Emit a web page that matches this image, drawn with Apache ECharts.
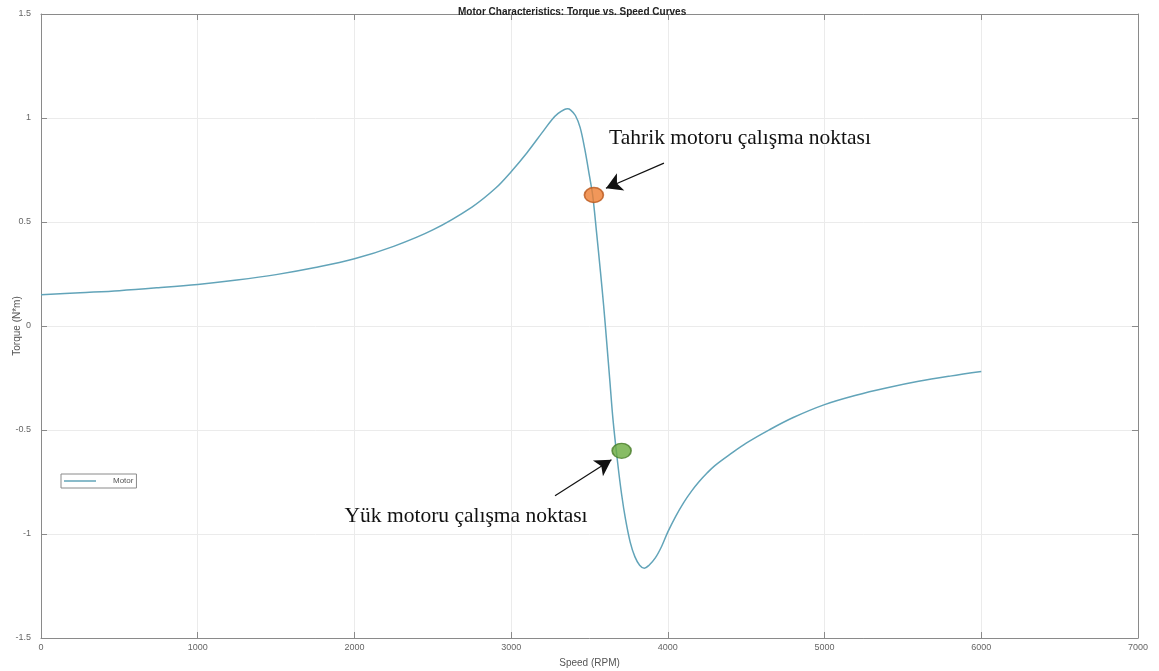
<!DOCTYPE html>
<html>
<head>
<meta charset="utf-8">
<script src="https://cdn.jsdelivr.net/npm/echarts@6/dist/echarts.min.js"></script>
<style>html,body{margin:0;padding:0;background:#fff;}#c{width:1159px;height:671px;}</style>
</head>
<body>
<div id="c"></div>
<script>
const speed = [0,250,500,750,1000,1250,1500,1750,2000,2250,2500,2750,2900,3000,3100,3200,3260,3300,3340,3360,3380,3410,3440,3470,3500,3520,3545,3570,3590,3610,3630,3650,3680,3705,3730,3760,3790,3820,3850,3880,3920,3960,4000,4050,4100,4150,4200,4250,4300,4400,4500,4650,4800,5000,5200,5400,5600,5800,6000];
const torque = [0.150,0.160,0.170,0.184,0.200,0.221,0.247,0.281,0.323,0.383,0.462,0.572,0.662,0.742,0.832,0.932,0.992,1.022,1.041,1.044,1.038,1.012,0.955,0.850,0.720,0.630,0.450,0.260,0.100,-0.080,-0.265,-0.450,-0.660,-0.810,-0.930,-1.040,-1.110,-1.150,-1.165,-1.150,-1.115,-1.060,-0.990,-0.915,-0.850,-0.795,-0.748,-0.707,-0.671,-0.615,-0.563,-0.498,-0.440,-0.378,-0.333,-0.297,-0.266,-0.241,-0.219];
const xTicks = [0,1000,2000,3000,4000,5000,6000,7000];
const yTicks = [-1.5,-1,-0.5,0,0.5,1,1.5];
const drivePoint = [3528, 0.630];
const loadPoint = [3705, -0.600];
const driveLabel = 'Tahrik motoru çalışma noktası';
const loadLabel = 'Yük motoru çalışma noktası';
const driveArrow = [[3975, 0.783], [3605, 0.662]];
const loadArrow = [[3280, -0.816], [3640, -0.643]];
const driveLabelPos = [3625, 0.903];
const loadLabelPos = [1937, -0.913];

const chart = echarts.init(document.getElementById('c'), null, {renderer: 'canvas'});
const data = speed.map((s, i) => [s, torque[i]]);
const axisCommon = {
  type: 'value',
  axisLine: {show: true, onZero: false, lineStyle: {color: '#8a8a8a', width: 1}},
  axisTick: {show: true, inside: true, length: 6, lineStyle: {color: '#8a8a8a'}},
};
chart.setOption({
  animation: false,
  backgroundColor: '#fff',
  title: {
    text: 'Motor Characteristics: Torque vs. Speed Curves',
    left: 453, top: 2,
    textStyle: {fontFamily: 'Liberation Sans, Arial', fontSize: 10, fontWeight: 'bold', color: '#222'}
  },
  legend: {
    data: [{name: 'Motor', icon: 'rect'}], left: 61, top: 474, orient: 'vertical',
    borderColor: '#8a8a8a', borderWidth: 1, padding: [3, 3, 3, 3],
    itemWidth: 32, itemHeight: 1.5, itemGap: 4,
    textStyle: {fontFamily: 'Liberation Sans, Arial', fontSize: 8, color: '#555', padding: [3, 0, 3, 12]},
    backgroundColor: '#fff'
  },
  grid: {left: 41, right: 21, top: 14, bottom: 33, containLabel: false, outerBoundsMode: 'none'},
  xAxis: [
    Object.assign({}, axisCommon, {
      min: 0, max: 7000, interval: 1000, position: 'bottom',
      name: 'Speed (RPM)', nameLocation: 'middle', nameGap: 20, nameMoveOverlap: false,
      nameTextStyle: {fontFamily: 'Liberation Sans, Arial', fontSize: 10, color: '#555'},
      axisLabel: {fontFamily: 'Liberation Sans, Arial', fontSize: 9, color: '#666', margin: 5,
        formatter: v => xTicks.includes(v) ? String(v) : ''},
      splitLine: {show: true, lineStyle: {color: '#ebebeb', width: 1}}
    }),
    Object.assign({}, axisCommon, {
      min: 0, max: 7000, interval: 1000, position: 'top',
      axisLabel: {show: false}, splitLine: {show: false}
    })
  ],
  yAxis: [
    Object.assign({}, axisCommon, {
      min: -1.5, max: 1.5, interval: 0.5, position: 'left',
      name: 'Torque (N*m)', nameLocation: 'middle', nameGap: 19, nameRotate: 90, nameMoveOverlap: false,
      nameTextStyle: {fontFamily: 'Liberation Sans, Arial', fontSize: 10, color: '#555'},
      axisLabel: {fontFamily: 'Liberation Sans, Arial', fontSize: 9, color: '#666', margin: 10,
        formatter: v => yTicks.includes(v) ? String(v) : ''},
      splitLine: {show: true, lineStyle: {color: '#ebebeb', width: 1}}
    }),
    Object.assign({}, axisCommon, {
      min: -1.5, max: 1.5, interval: 0.5, position: 'right',
      axisLabel: {show: false}, splitLine: {show: false}
    })
  ],
  series: [
    {
      name: 'Motor', type: 'line', data: data, symbol: 'none', showSymbol: false, smooth: 0.35,
      lineStyle: {color: '#62a4b9', width: 1.5}, itemStyle: {color: '#62a4b9'}
    },
    {
      name: 'points', type: 'scatter', symbol: 'circle', symbolSize: [19, 15],
      data: [
        {value: drivePoint, itemStyle: {color: '#ed7d31', borderColor: '#b9581d', borderWidth: 1.5}},
        {value: loadPoint, itemStyle: {color: '#6aab3e', borderColor: '#4a7d2a', borderWidth: 1.5}}
      ],
      z: 5,
      markLine: {
        silent: true, symbol: ['none', 'arrow'], symbolSize: [14, 16],
        lineStyle: {color: '#111', width: 1.2, type: 'solid'},
        label: {show: false},
        data: [
          [{coord: driveArrow[0]}, {coord: driveArrow[1]}],
          [{coord: loadArrow[0]}, {coord: loadArrow[1]}]
        ]
      }
    }
  ]
});

const p1 = chart.convertToPixel({xAxisIndex: 0, yAxisIndex: 0}, driveLabelPos);
const p2 = chart.convertToPixel({xAxisIndex: 0, yAxisIndex: 0}, loadLabelPos);
chart.setOption({
  graphic: [
    {type: 'text', x: p1[0], y: p1[1], z: 10,
      style: {text: driveLabel, font: '21.5px "Liberation Serif", "Times New Roman", serif', fill: '#111',
        align: 'left', verticalAlign: 'middle'}},
    {type: 'text', x: p2[0], y: p2[1], z: 10,
      style: {text: loadLabel, font: '21.5px "Liberation Serif", "Times New Roman", serif', fill: '#111',
        align: 'left', verticalAlign: 'middle'}}
  ]
});
</script>
</body>
</html>
